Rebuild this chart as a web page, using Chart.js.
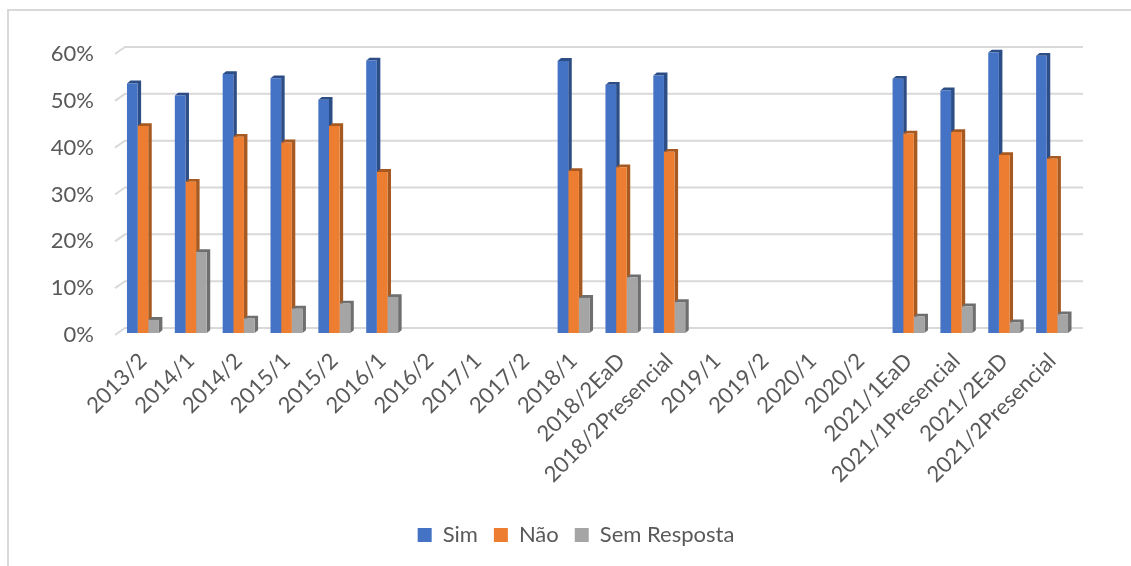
<!DOCTYPE html>
<html>
<head>
<meta charset="utf-8">
<title>Sim / Não / Sem Resposta</title>
<script src="https://cdn.jsdelivr.net/npm/chart.js@4"></script>
<style>
  html, body { margin: 0; padding: 0; background: #fff; }
  #wrap { position: relative; width: 1131px; height: 566px; overflow: hidden; }
</style>
</head>
<body>
<div id="wrap"><canvas id="chart"></canvas></div>
<script>
// Values, in percent. null = no survey that semester
const categories = ['2013/2', '2014/1', '2014/2', '2015/1', '2015/2', '2016/1', '2016/2', '2017/1', '2017/2', '2018/1',
    '2018/2EaD', '2018/2Presencial', '2019/1', '2019/2', '2020/1', '2020/2', '2021/1EaD', '2021/1Presencial', '2021/2EaD', '2021/2Presencial'];
const sim = [53.3, 50.7, 55.3, 54.4, 49.8, 58.2, null, null, null, 58.1, 53.0, 55.0, null, null, null, null, 54.3, 51.8, 59.9, 59.2];
const nao = [44.2, 32.3, 41.9, 40.7, 44.2, 34.4, null, null, null, 34.6, 35.4, 38.7, null, null, null, null, 42.6, 42.9, 38.0, 37.2];
const semResposta = [2.8, 17.3, 3.1, 5.2, 6.3, 7.7, null, null, null, 7.5, 11.9, 6.6, null, null, null, null, 3.5, 5.7, 2.3, 4.0];
const yTicks = [0, 10, 20, 30, 40, 50, 60];

const textColor = '#595959';
const gridColor = '#d9d9d9';
const labelFont = { family: 'Lato', size: 22 };

// Dark shade used for the fake 3D side and top of each bar
const sideColors = ['#2c4d86', '#a65a22', '#6f6f6f'];

// Frame, back wall gridlines and the little floor diagonals
const backdrop = {
    id: 'backdrop',
    beforeDraw(chart) {
        const ctx = chart.ctx;
        const { left, right } = chart.chartArea;
        ctx.save();
        ctx.strokeStyle = gridColor;
        ctx.lineWidth = 2;
        ctx.beginPath();
        ctx.moveTo(8, 566);
        ctx.lineTo(8, 10);
        ctx.lineTo(1131, 10);
        ctx.stroke();
        yTicks.forEach(function(v) {
            const y = chart.scales.y.getPixelForValue(v);
            ctx.beginPath();
            ctx.moveTo(left - 4, y);
            ctx.lineTo(left + 6, y - 7);
            ctx.lineTo(right + 7, y - 7);
            ctx.stroke();
        });
        ctx.restore();
    }
};

// Bars sit a bit in front of the axis floor, and get a side and top face.
// The faces go down first, so each front (drawn by Chart.js) covers its left neighbour's side
const depth = {
    id: 'depth',
    beforeDatasetsDraw(chart) {
        const ctx = chart.ctx;
        const d = 3.5;
        ctx.save();
        ctx.translate(0, -2);
        chart.data.datasets.forEach(function(dataset, index) {
            ctx.fillStyle = sideColors[index];
            chart.getDatasetMeta(index).data.forEach(function(bar, i) {
                if (dataset.data[i] === null) return;
                const r = bar.x + bar.width / 2;
                const l = bar.x - bar.width / 2;
                ctx.beginPath();
                ctx.moveTo(l, bar.y);
                ctx.lineTo(l + d, bar.y - d * 0.8);
                ctx.lineTo(r + d, bar.y - d * 0.8);
                ctx.lineTo(r + d, bar.base - d * 0.8);
                ctx.lineTo(r, bar.base);
                ctx.lineTo(r, bar.y);
                ctx.closePath();
                ctx.fill();
            });
        });
    },
    afterDatasetsDraw(chart) {
        chart.ctx.restore();
    }
};

// Legend is not centred on the canvas in the original
const legendShift = {
    id: 'legendShift',
    afterUpdate(chart) {
        chart.legend.left += 38;
        chart.legend.right += 38;
    }
};

new Chart(document.getElementById('chart'), {
    type: 'bar',
    data: {
        labels: categories,
        datasets: [
            { label: 'Sim', data: sim, backgroundColor: '#4472c4' },
            { label: 'Não', data: nao, backgroundColor: '#ed7d31' },
            { label: 'Sem Resposta', data: semResposta, backgroundColor: '#a5a5a5' }
        ]
    },
    options: {
        responsive: true,
        maintainAspectRatio: false,
        animation: false,
        layout: { padding: { top: 54, right: 55, bottom: 10, left: 0 } },
        datasets: { bar: { categoryPercentage: 0.667, barPercentage: 1 } },
        plugins: {
            tooltip: { enabled: false },
            legend: {
                position: 'bottom',
                labels: {
                    boxWidth: 14,
                    boxHeight: 14,
                    padding: 16,
                    color: textColor,
                    font: labelFont
                }
            }
        },
        scales: {
            x: {
                afterFit(scale) { scale.height = 173; },
                grid: { display: false },
                border: { display: false },
                ticks: {
                    autoSkip: false,
                    minRotation: 45,
                    maxRotation: 45,
                    padding: 5,
                    color: textColor,
                    font: labelFont
                }
            },
            y: {
                min: 0,
                max: 60,
                afterFit(scale) { scale.width = 119; },
                afterBuildTicks(scale) {
                    scale.ticks = yTicks.map(function(v) { return { value: v }; });
                },
                grid: { display: false, drawTicks: false },
                border: { display: false },
                ticks: {
                    padding: 25,
                    color: textColor,
                    font: labelFont,
                    callback: function(value) { return value + '%'; }
                }
            }
        }
    },
    plugins: [backdrop, depth, legendShift]
});
</script>
</body>
</html>
